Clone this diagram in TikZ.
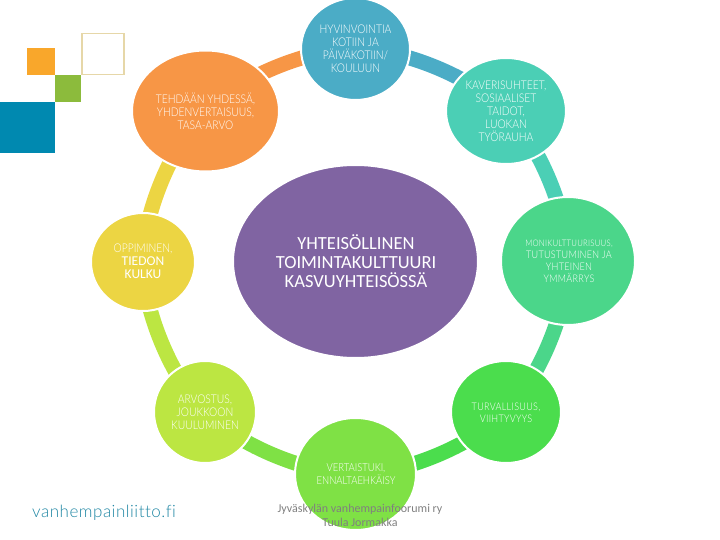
\documentclass[tikz,border=0pt]{standalone}
\usepackage{fontspec}
\setmainfont{Carlito}
\newfontfamily\thinfont[FakeStretch=0.86]{Lato Light}
\newfontfamily\widefont[FakeStretch=0.86,LetterSpace=3]{Lato Light}
\newfontfamily\logofont[LetterSpace=3,Ligatures=CommonOff]{Lato Light}
\usetikzlibrary{shapes.geometric,backgrounds}
\definecolor{bluebub}{HTML}{4BACC6}
\definecolor{orangebub}{HTML}{F79646}
\definecolor{tealbub}{HTML}{4BCFB5}
\definecolor{seabub}{HTML}{4BD68A}
\definecolor{greenbub}{HTML}{4BDD4D}
\definecolor{vertbub}{HTML}{7FE145}
\definecolor{limebub}{HTML}{BCE642}
\definecolor{yellowbub}{HTML}{ECD543}
\definecolor{purplebub}{HTML}{8064A2}
\definecolor{creditgray}{HTML}{7F7F7F}
\definecolor{logoblue}{HTML}{1F86A3}
\definecolor{squareorange}{HTML}{F9A72B}
\definecolor{squaregreen}{HTML}{8CBB3C}
\definecolor{squareblue}{HTML}{0089B0}
\definecolor{squareline}{HTML}{E6D7A8}
\tikzset{
    bubble/.style={ellipse, draw=white, line width=2pt, inner sep=0pt},
    bubtext/.style={inner sep=0pt, align=center, text=white, font=\thinfont\fontsize{12}{13}\selectfont},
    midtext/.style={bubtext, font=\thinfont\fontsize{11}{13}\selectfont},
    smalltext/.style={bubtext, font=\widefont\fontsize{10.5}{12}\selectfont},
    ringband/.style={line width=15pt}
}
\begin{document}
\begin{tikzpicture}[x=1pt,y=-1pt]
    \useasboundingbox (0,0) rectangle (720,540);

    % Logo squares
    \fill[squareorange] (27,48) rectangle (55,75);
    \fill[squaregreen] (55,75) rectangle (81,102);
    \fill[squareblue] (0,102) rectangle (55,153);
    \draw[line width=1.2pt, squareline] (82,33.5) rectangle (124,74.5);

    % Ring of bubbles
    \node[bubble, fill=bluebub, minimum width=109pt, minimum height=102pt] (hyvinvointi) at (355.5,49) {};
    \node[bubble, fill=tealbub, minimum width=120pt, minimum height=106pt] (kaveri) at (506,111) {};
    \node[bubble, fill=seabub, minimum width=134pt, minimum height=128pt] (moni) at (568,261) {};
    \node[bubble, fill=greenbub, minimum width=110pt, minimum height=102pt] (turva) at (506,412) {};
    \node[bubble, fill=vertbub, minimum width=121pt, minimum height=112pt] (vertais) at (355.5,474) {};
    \node[bubble, fill=limebub, minimum width=102pt, minimum height=102pt] (arvostus) at (205,412) {};
    \node[bubble, fill=yellowbub, minimum width=104pt, minimum height=98pt] (oppiminen) at (143,262) {};
    \node[bubble, fill=orangebub, minimum width=147pt, minimum height=121pt] (tehdaan) at (205.5,111) {};

    % Centre
    \node[bubble, fill=purplebub, minimum width=245pt, minimum height=193pt] (kulttuuri) at (355.5,261.5) {};

    % Bands between bubbles
    \begin{pgfonlayer}{background}
        \foreach \from/\to/\col in {tehdaan/hyvinvointi/orangebub, hyvinvointi/kaveri/bluebub,
            kaveri/moni/tealbub, moni/turva/seabub, turva/vertais/greenbub,
            vertais/arvostus/vertbub, arvostus/oppiminen/limebub, oppiminen/tehdaan/yellowbub}
            \draw[ringband, \col] (\from.center) to[bend left=22.5, looseness=0.75] (\to.center);
    \end{pgfonlayer}

    % Texts
    \node[bubtext] (hyvinvointitext) at (355.5,48.5) {HYVINVOINTIA\\KOTIIN JA\\PÄIVÄKOTIIN/\\KOULUUN};
    \node[bubtext] (tehdaantext) at (205.5,111) {TEHDÄÄN YHDESSÄ,\\YHDENVERTAISUUS,\\TASA-ARVO};
    \node[bubtext] (kaveritext) at (506,111) {KAVERISUHTEET,\\SOSIAALISET\\TAIDOT,\\LUOKAN\\TYÖRAUHA};
    \node[inner sep=0pt, text=white, font=\widefont\fontsize{9}{9}\selectfont] (monitext) at (569,244) {MONIKULTTUURISUUS,};
    \node[smalltext] (tututext) at (569,266.5) {TUTUSTUMINEN JA\\YHTEINEN\\YMMÄRRYS};
    \node[bubtext] (oppiminentext) at (143,261.5) {OPPIMINEN,\\{\normalfont\fontsize{13.5}{13}\selectfont TIEDON}\\{\normalfont\fontsize{13.5}{13}\selectfont KULKU}};
    \node[bubtext] (arvostustext) at (205,412) {ARVOSTUS,\\JOUKKOON\\KUULUMINEN};
    \node[smalltext] (turvatext) at (506,412.5) {TURVALLISUUS,\\VIIHTYVYYS};
    \node[midtext] (vertaistext) at (356,474.5) {VERTAISTUKI,\\ENNALTAEHKÄISY};
    \node[inner sep=0pt, align=center, text=white, font=\fontsize{18.5}{19}\selectfont] (kulttuuritext) at (356,261.5) {YHTEISÖLLINEN\\TOIMINTAKULTTUURI\\KASVUYHTEISÖSSÄ};

    % Credit and address
    \node[inner sep=0pt, align=center, text=creditgray, font=\fontsize{12}{14}\selectfont] (credit) at (360,515) {Jyväskylän vanhempainfoorumi ry\\Tuula Jormakka};
    \node[inner sep=0pt, anchor=west, text=logoblue, font=\logofont\fontsize{17}{17}\selectfont] (osoite) at (32,513) {vanhempainliitto.fi};
\end{tikzpicture}
\end{document}
